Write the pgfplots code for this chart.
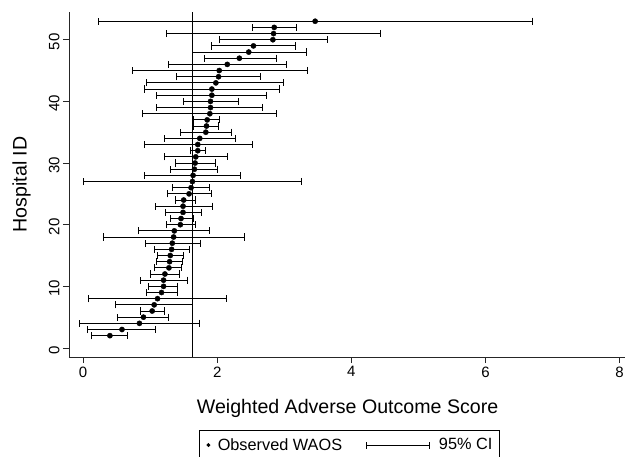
\documentclass[border=0pt]{standalone}
\usepackage{fontspec}
\setmainfont{Liberation Sans}
\usepackage{pgfplots}
\usepackage{pgfplotstable}
\pgfplotsset{compat=1.18}
\pgfplotstableread{
id x lo hi
2 0.40 0.13 0.66
3 0.58 0.07 1.08
4 0.84 -0.06 1.74
5 0.90 0.51 1.28
6 1.03 0.85 1.21
7 1.06 0.48 1.63
8 1.11 0.08 2.14
9 1.17 0.94 1.41
10 1.20 0.98 1.41
11 1.20 0.85 1.55
12 1.22 1.01 1.44
13 1.28 1.07 1.47
14 1.29 1.09 1.48
15 1.30 1.11 1.49
16 1.32 1.06 1.58
17 1.33 0.93 1.75
18 1.35 0.31 2.40
19 1.36 0.83 1.89
20 1.45 1.24 1.67
21 1.46 1.30 1.64
22 1.49 1.23 1.76
23 1.49 1.08 1.93
24 1.50 1.38 1.67
25 1.58 1.26 1.92
26 1.61 1.34 1.89
27 1.63 0.00 3.26
28 1.64 0.91 2.35
29 1.66 1.30 2.00
30 1.67 1.38 1.98
31 1.68 1.21 2.16
32 1.71 1.60 1.82
33 1.71 0.91 2.52
34 1.74 1.21 2.27
35 1.83 1.45 2.22
36 1.84 1.65 2.02
37 1.85 1.65 2.04
38 1.89 0.89 2.88
39 1.90 1.10 2.68
40 1.90 1.49 2.31
41 1.92 1.10 2.74
42 1.92 0.92 2.93
43 1.98 0.95 2.99
44 2.02 1.39 2.65
45 2.03 0.73 3.35
46 2.15 1.27 3.04
47 2.33 1.81 2.88
48 2.47 1.63 3.33
49 2.54 1.91 3.17
50 2.83 2.03 3.64
51 2.84 1.24 4.43
52 2.85 2.52 3.18
53 3.46 0.23 6.70
}\data
\begin{document}
\begin{tikzpicture}
\useasboundingbox (-69pt,-100pt) rectangle (557pt,357pt);
\begin{axis}[
  scale only axis, width=556pt, height=345pt,
  xmin=-0.21, xmax=8.08, ymin=-1.46, ymax=54.5,
  axis lines=left,
  axis line style={-, line width=0.9pt, black!85},
  xtick={0,2,4,6,8}, ytick={0,10,20,30,40,50},
  tick align=outside, major tick length=6pt,
  tick style={black!85, line width=0.9pt},
  /pgf/number format/assume math mode=true,
  ticklabel style={font=\fontsize{15}{18}\selectfont},
  yticklabel style={rotate=90, anchor=south, xshift=-2pt},
  xlabel={Weighted Adverse Outcome Score},
  ylabel={Hospital ID},
  label style={font=\fontsize{19.6}{23}\selectfont},
  xlabel style={at={(axis description cs:0.501,-0.163)}, anchor=base},
  ylabel style={at={(axis description cs:-0.076,0.5)}, anchor=base},
  legend style={at={(axis description cs:0.504,-0.2116)}, anchor=north,
    draw=black, line width=0.7pt, font=\fontsize{16.3}{18}\selectfont,
    legend columns=2, inner xsep=5pt, inner ysep=6pt,
    /tikz/every even column/.append style={column sep=22pt}},
  legend cell align=left,
  clip=false,
]
\addlegendimage{legend image code/.code={\fill[black] (0pt,0pt) circle (1.6pt); \path (-4pt,0pt) (7pt,0pt);}}
\addlegendentry{Observed WAOS}
\addlegendimage{legend image code/.code={
  \draw[black, line width=0.9pt] (0pt,0pt) -- (63pt,0pt);
  \draw[black, line width=0.9pt] (0pt,-3.5pt) -- (0pt,3.5pt);
  \draw[black, line width=0.9pt] (63pt,-3.5pt) -- (63pt,3.5pt);
  \path (70pt,0pt);}}
\addlegendentry{95\% CI}
\addplot[black, line width=1.3pt, forget plot] coordinates {(1.63,-1.46) (1.63,54.5)};
\addplot[black, only marks, mark=*, mark size=2.6pt, forget plot,
  error bars/.cd, x dir=both, x explicit, error mark=|,
  error bar style={draw=black, line width=1pt},
  error mark options={draw=black, mark size=3.6pt, line width=1pt}]
  table[x=x, y=id, x error plus expr=\thisrow{hi}-\thisrow{x}, x error minus expr=\thisrow{x}-\thisrow{lo}] {\data};
\end{axis}
\end{tikzpicture}
\end{document}
